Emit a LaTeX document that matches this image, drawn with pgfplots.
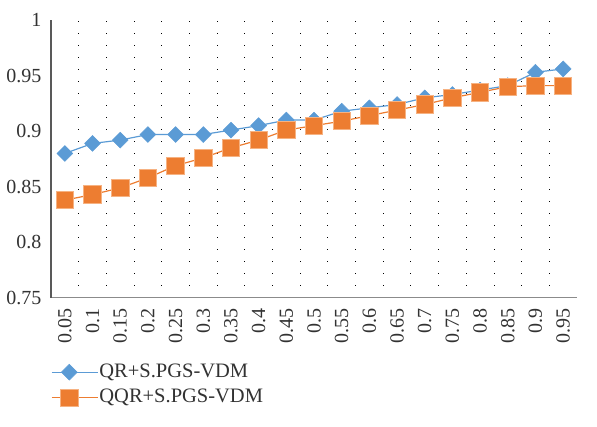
\documentclass[border=0pt]{standalone}
\usepackage{pgfplots}
\pgfplotsset{compat=1.18}
\usepackage{fontspec}
\setmainfont{Liberation Serif}
\definecolor{qrBlue}{RGB}{91,155,213}
\definecolor{qqrOrange}{RGB}{237,125,49}
\definecolor{qqrEdge}{RGB}{246,178,130}
\definecolor{axisGray}{RGB}{89,89,89}
\definecolor{textGray}{RGB}{50,50,50}

% columns: category index, value
\pgfplotstableread{
x y
0 0.880
1 0.889
2 0.892
3 0.897
4 0.897
5 0.897
6 0.901
7 0.905
8 0.910
9 0.910
10 0.918
11 0.921
12 0.924
13 0.930
14 0.933
15 0.937
16 0.941
17 0.953
18 0.956
}\qrdata
\pgfplotstableread{
x y
0 0.838
1 0.843
2 0.849
3 0.858
4 0.869
5 0.876
6 0.885
7 0.892
8 0.901
9 0.905
10 0.909
11 0.914
12 0.919
13 0.924
14 0.930
15 0.935
16 0.940
17 0.941
18 0.941
}\qqrdata

\begin{document}
\fontsize{19}{22}\selectfont
\begin{tikzpicture}
\useasboundingbox (-51pt,-129pt) rectangle (546pt,298pt);
\begin{axis}[
  scale only axis,
  width=526pt, height=278pt,
  xmin=-0.5, xmax=18.5,
  ymin=0.75, ymax=1,
  /pgf/number format/assume math mode=true,
  xtick={0,...,18},
  xticklabels={0.05,0.1,0.15,0.2,0.25,0.3,0.35,0.4,0.45,0.5,0.55,0.6,0.65,0.7,0.75,0.8,0.85,0.9,0.95},
  x tick label style={rotate=90, anchor=east, text=textGray, font=\fontsize{20}{22}\selectfont},
  xticklabel shift=4pt,
  ytick={0.75,0.8,0.85,0.9,0.95,1},
  yticklabels={0.75,0.8,0.85,0.9,0.95,1},
  y tick label style={text=textGray, font=\fontsize{20}{22}\selectfont},
  yticklabel shift=3pt,
  major tick length=0pt,
  minor x tick num=1,
  minor tick length=0pt,
  xminorgrids=true,
  minor grid style={black, line width=0.9pt, dash pattern=on 0.9pt off 11.1pt},
  axis x line*=bottom,
  axis y line*=left,
  x axis line style={axisGray!70, line width=1pt, -},
  y axis line style={axisGray, line width=1.5pt, -},
  legend style={at={(axis description cs:0,-0.233)}, anchor=north west,
    draw=none, fill=none, inner sep=0pt, row sep=7pt,
    text=textGray,
    font=\fontsize{20.5}{23}\selectfont,
    nodes={inner sep=1pt}},
  legend cell align=left,
  legend image code/.code={
    \path (0pt,0pt) -- (46pt,0pt);
    \draw[mark repeat=2, mark phase=2] plot coordinates {(0pt,0pt) (17.5pt,0pt) (35pt,0pt)};
  },
]
\addplot[qrBlue, line width=1.2pt, mark=square*, mark size=5.6pt,
  mark options={solid, rotate=45, fill=qrBlue, draw=qrBlue, line width=0.5pt}]
  table[x=x, y=y] {\qrdata};
\addlegendentry{QR+S.PGS-VDM}
\addplot[qqrOrange, line width=1.2pt, mark=square*, mark size=8.7pt,
  mark options={solid, fill=qqrOrange, draw=qqrEdge, line width=0.8pt}]
  table[x=x, y=y] {\qqrdata};
\addlegendentry{QQR+S.PGS-VDM}
\end{axis}
\end{tikzpicture}
\end{document}
